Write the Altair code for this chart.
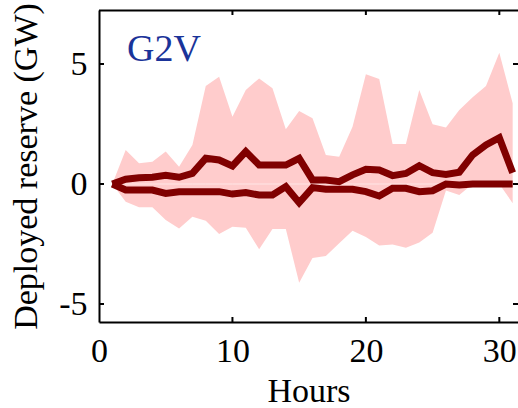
import altair as alt
import pandas as pd

hours = list(range(1, 32))
band_upper = [0.0, 1.42, 0.86, 0.93, 1.35, 0.72, 1.63, 4.08, 4.47, 2.80,
              3.92, 4.40, 3.99, 2.28, 3.04, 2.74, 1.21, 1.14, 2.39, 4.57,
              4.38, 1.67, 1.67, 3.92, 2.49, 2.35, 3.08, 3.61, 4.08, 5.47, 3.36]
band_lower = [0.0, -0.74, -0.97, -0.97, -1.50, -1.85, -1.36, -1.53, -2.08, -1.78,
              -1.82, -2.72, -1.88, -1.88, -4.11, -3.08, -3.00, -2.47, -1.95, -2.21,
              -2.56, -2.52, -2.66, -2.44, -2.03, -0.27, -0.46, 0.0, 0.0, 0.0, -0.80]
line_up = [0.0, 0.20, 0.26, 0.28, 0.36, 0.28, 0.44, 1.07, 1.00, 0.75,
           1.35, 0.79, 0.79, 0.79, 1.07, 0.17, 0.17, 0.10, 0.38, 0.61,
           0.58, 0.35, 0.44, 0.76, 0.47, 0.40, 0.49, 1.21, 1.63, 1.93, 0.47]
line_down = [0.0, -0.25, -0.25, -0.25, -0.39, -0.32, -0.32, -0.32, -0.32, -0.42,
             -0.36, -0.46, -0.46, -0.11, -0.78, -0.15, -0.22, -0.22, -0.22, -0.32,
             -0.50, -0.18, -0.18, -0.32, -0.28, 0.0, -0.04, 0.0, 0.0, 0.0, 0.0]
x_labels = [0, 10, 20, 30]
x_ticks = [10, 20, 30]
y_ticks = [-5, 0, 5]
panel_label = ["G2V"]

W, H = 419, 312
FONT = "Liberation Serif"
DARK = "#800000"
PINK = "#FFCCCC"

df = pd.DataFrame({"hour": hours, "lo": band_lower, "hi": band_upper})
lines = pd.DataFrame({
    "hour": hours * 2,
    "value": line_up + line_down,
    "series": ["up"] * len(hours) + ["down"] * len(hours),
})

xscale = alt.Scale(domain=[0, 31.4], nice=False, zero=False)
yscale = alt.Scale(domain=[-5.75, 7.25], nice=False, zero=False)

x_axis = alt.Axis(values=x_labels, title="Hours", labelFlush=False, labelOverlap=False,
                  labelPadding=12, titlePadding=6)
y_axis = alt.Axis(values=y_ticks, title="Deployed reserve (GW)", labelOverlap=False,
                  labelPadding=12, titlePadding=15,
                  labelExpr="datum.value < 0 ? '-' + abs(datum.value) : '' + datum.value")

band = alt.Chart(df).mark_area(color=PINK, opacity=1).encode(
    x=alt.X("hour:Q", scale=xscale, axis=x_axis),
    y=alt.Y("lo:Q", scale=yscale, axis=y_axis),
    y2="hi:Q",
)

seam = alt.Chart(df).mark_line(color="white", strokeWidth=1, opacity=0.5).encode(
    x=alt.X("hour:Q", scale=xscale),
    y=alt.datum(0),
)

line_chart = alt.Chart(lines).mark_line(color=DARK, strokeWidth=7).encode(
    x=alt.X("hour:Q", scale=xscale),
    y=alt.Y("value:Q", scale=yscale),
    detail="series:N",
)

xt = pd.DataFrame({"t": x_ticks})
yt = pd.DataFrame({"t": y_ticks})
tick_style = dict(color="black", strokeWidth=2)
xt_bot = alt.Chart(xt).mark_rule(**tick_style).encode(
    x=alt.X("t:Q", scale=xscale), y=alt.value(H), y2=alt.value(H - 5))
xt_top = alt.Chart(xt).mark_rule(**tick_style).encode(
    x=alt.X("t:Q", scale=xscale), y=alt.value(0), y2=alt.value(5))
yt_left = alt.Chart(yt).mark_rule(**tick_style).encode(
    y=alt.Y("t:Q", scale=yscale), x=alt.value(0), x2=alt.value(5))
yt_right = alt.Chart(yt).mark_rule(**tick_style).encode(
    y=alt.Y("t:Q", scale=yscale), x=alt.value(W - 5), x2=alt.value(W))

lab = pd.DataFrame({"label": panel_label})
top_border = alt.Chart(lab).mark_rule(color="black", strokeWidth=2).encode(
    x=alt.value(0), x2=alt.value(W), y=alt.value(0.5))

label = alt.Chart(lab).mark_text(
    font=FONT, fontSize=38, color="#1a3399", align="left", baseline="alphabetic"
).encode(text="label:N", x=alt.value(28), y=alt.value(51))

chart = alt.layer(
    band, seam, line_chart, xt_bot, xt_top, yt_left, yt_right, top_border, label
).properties(
    width=W, height=H,
    autosize=alt.AutoSizeParams(type="none"),
    padding={"left": 99, "top": 10, "right": 0, "bottom": 86},
).configure_view(stroke=None).configure_axis(
    labelFont=FONT, titleFont=FONT, labelFontSize=34, titleFontSize=34,
    labelColor="black", titleColor="black", titleFontWeight="normal",
    domainColor="black", domainWidth=2, ticks=False, grid=False,
)

chart.save("out.html", embed_options={"renderer": "svg", "actions": False})
